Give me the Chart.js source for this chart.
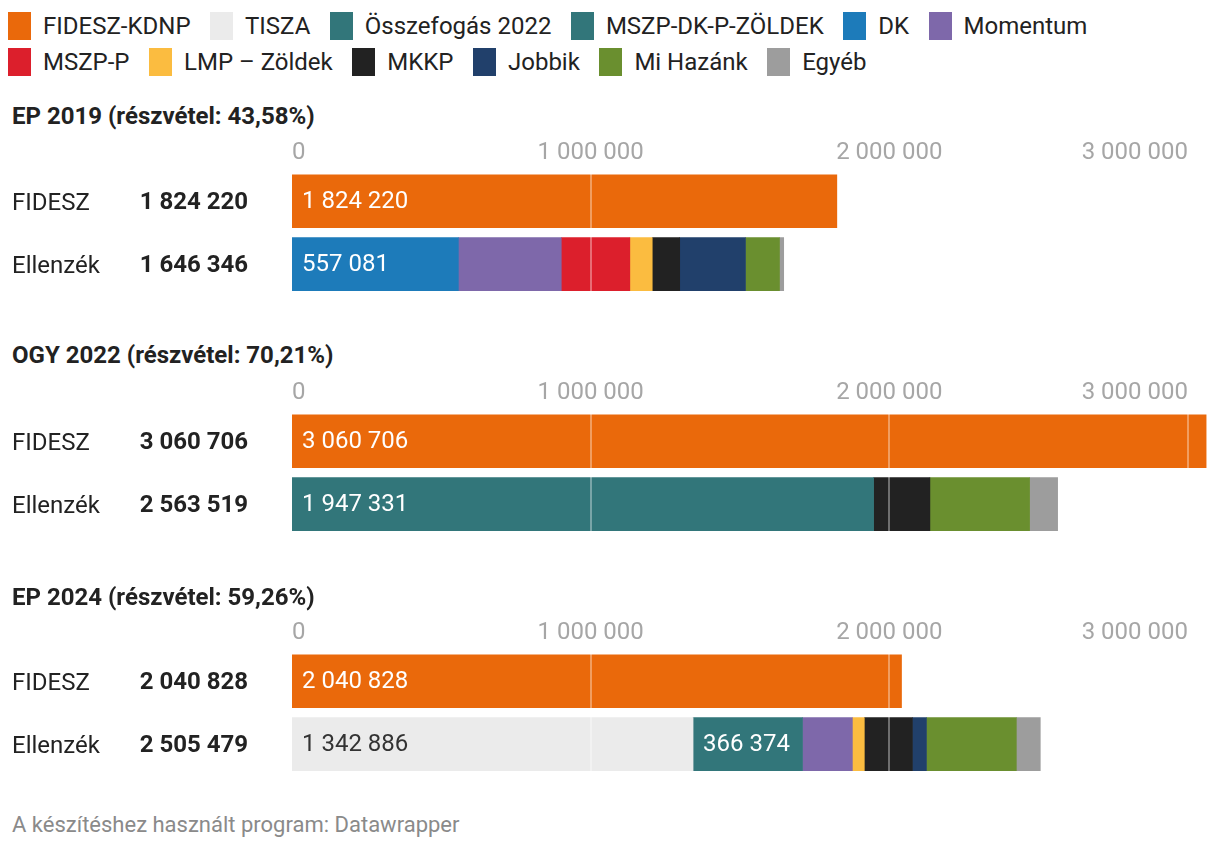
<!DOCTYPE html>
<html>
<head>
<meta charset="utf-8">
<script src="https://cdn.jsdelivr.net/npm/chart.js@4.4.1/dist/chart.umd.min.js"></script>
<style>
  body { margin: 0; width: 1220px; height: 850px; background: #fff; font-family: Roboto, sans-serif; color: #222; position: relative; overflow: hidden; }
  #legend { position: absolute; left: 8px; top: 8px; width: 1210px; display: flex; flex-wrap: wrap; }
  .item { display: flex; align-items: center; height: 36px; margin-right: 19.5px; font-size: 24px; }
  .sw { width: 23px; height: 28px; margin-right: 12px; }
  .title { position: absolute; left: 12px; font-weight: bold; font-size: 24px; line-height: 28px; }
  .panel { position: absolute; left: 0; }
  #footer { position: absolute; left: 12px; top: 812px; font-size: 22px; line-height: 26px; color: #8a8a8a; }
</style>
</head>
<body>
<div id="legend"></div>
<div id="charts"></div>
<div id="footer">A készítéshez használt program: Datawrapper</div>
<script>
// data
var rows = ['FIDESZ', 'Ellenzék'];
var panelTitles = ['EP 2019 (részvétel: 43,58%)', 'OGY 2022 (részvétel: 70,21%)', 'EP 2024 (részvétel: 59,26%)'];
var parties = ['FIDESZ-KDNP', 'TISZA', 'Összefogás 2022', 'MSZP-DK-P-ZÖLDEK', 'DK', 'Momentum',
               'MSZP-P', 'LMP – Zöldek', 'MKKP', 'Jobbik', 'Mi Hazánk', 'Egyéb'];
var tickValues = [0, 1000000, 2000000, 3000000];

// one entry per panel: EP 2019, OGY 2022, EP 2024
var fidesz     = [1824220, 3060706, 2040828];
var tisza      = [0, 0, 1342886];
var osszefogas = [0, 1947331, 0];
var mszpDkPZ   = [0, 0, 366374];
var dk         = [557081, 0, 0];
var momentum   = [344512, 0, 167000];
var mszpP      = [229551, 0, 0];
var lmp        = [75000, 0, 40000];
var mkkp       = [92000, 188500, 161000];
var jobbik     = [220184, 0, 47000];
var miHazank   = [114000, 333800, 301000];
var egyeb      = [14018, 93888, 80219];

var partyValues = [fidesz, tisza, osszefogas, mszpDkPZ, dk, momentum, mszpP, lmp, mkkp, jobbik, miHazank, egyeb];
var colors = ['#ea690b', '#ebebeb', '#32767a', '#32767a', '#1d7bba', '#7e68aa',
              '#dc1f2c', '#fbbc40', '#222222', '#21406b', '#6a8f2f', '#9d9d9d'];

var xMax = 3067000;

function fmt(v) {
  return String(Math.round(v)).replace(/\B(?=(\d{3})+(?!\d))/g, ' ');
}

// legend
var legend = document.getElementById('legend');
parties.forEach(function (p, i) {
  var it = document.createElement('div');
  it.className = 'item';
  it.innerHTML = '<span class="sw" style="background:' + colors[i] + '"></span><span>' + p + '</span>';
  legend.appendChild(it);
});

// row names + totals on the left
var rowLabels = {
  id: 'rowLabels',
  afterDraw: function (chart) {
    var ctx = chart.ctx, ys = chart.scales.y;
    var totals = [0, 0];
    chart.data.datasets.forEach(function (ds) {
      ds.data.forEach(function (v, j) { if (v) totals[j] += v; });
    });
    ctx.save();
    ctx.textBaseline = 'middle';
    rows.forEach(function (r, j) {
      var y = ys.getPixelForValue(j);
      ctx.fillStyle = '#222';
      ctx.textAlign = 'left';
      ctx.font = '24px Roboto';
      ctx.fillText(r, 12, y + 3);
      ctx.textAlign = 'right';
      ctx.font = 'bold 24px Roboto';
      ctx.fillText(fmt(totals[j]), 248, y + 1.5);
    });
    ctx.restore();
  }
};

// light grid lines over the bars + value labels
var overlay = {
  id: 'overlay',
  afterDatasetsDraw: function (chart) {
    var ctx = chart.ctx, xs = chart.scales.x, area = chart.chartArea;
    ctx.save();
    ctx.strokeStyle = 'rgba(255,255,255,0.35)';
    ctx.lineWidth = 2;
    xs.ticks.forEach(function (t) {
      if (t.value <= 0) return;
      var x = Math.round(xs.getPixelForValue(t.value));
      ctx.beginPath();
      ctx.moveTo(x, area.top);
      ctx.lineTo(x, area.bottom);
      ctx.stroke();
    });
    ctx.font = '24px Roboto';
    ctx.textAlign = 'left';
    ctx.textBaseline = 'middle';
    chart.data.datasets.forEach(function (ds, di) {
      var meta = chart.getDatasetMeta(di);
      meta.data.forEach(function (el, j) {
        var v = ds.data[j];
        if (!v || v < 350000) return;
        var p = el.getProps(['x', 'y', 'base'], true);
        ctx.fillStyle = ds.label === 'TISZA' ? '#333' : '#fff';
        ctx.fillText(fmt(v), Math.min(p.base, p.x) + 10, p.y + 1);
      });
    });
    ctx.restore();
  }
};

var titleTops = [102, 341, 583];
var canvasTops = [130, 370, 610];

panelTitles.forEach(function (title, i) {
  var t = document.createElement('div');
  t.className = 'title';
  t.style.top = titleTops[i] + 'px';
  t.textContent = title;
  document.body.appendChild(t);

  var cv = document.createElement('canvas');
  cv.className = 'panel';
  cv.width = 1220;
  cv.height = 175;
  cv.style.top = canvasTops[i] + 'px';
  document.getElementById('charts').appendChild(cv);

  var datasets = parties.map(function (p, k) {
    var v = partyValues[k][i];
    return {
      label: p,
      data: k === 0 ? [v || null, null] : [null, v || null],
      backgroundColor: colors[k],
      borderWidth: 0,
      barThickness: 53
    };
  });

  new Chart(cv, {
    type: 'bar',
    data: { labels: rows, datasets: datasets },
    options: {
      indexAxis: 'y',
      responsive: false,
      animation: false,
      devicePixelRatio: 1,
      layout: { padding: { left: 292, right: 12, top: 7, bottom: 9.5 } },
      plugins: { legend: { display: false }, tooltip: { enabled: false } },
      scales: {
        x: {
          type: 'linear',
          position: 'top',
          stacked: true,
          min: 0,
          max: xMax,
          grid: { display: false, drawTicks: false },
          border: { display: false },
          afterBuildTicks: function (axis) {
            axis.ticks = tickValues.map(function (v) { return { value: v }; });
          },
          ticks: {
            color: '#a6a6a6',
            font: { family: 'Roboto', size: 24 },
            padding: 2,
            align: 'inner',
            maxRotation: 0,
            autoSkip: false,
            callback: function (v) { return fmt(v); }
          }
        },
        y: {
          type: 'category',
          stacked: true,
          display: false
        }
      }
    },
    plugins: [rowLabels, overlay]
  });
});
</script>
</body>
</html>
